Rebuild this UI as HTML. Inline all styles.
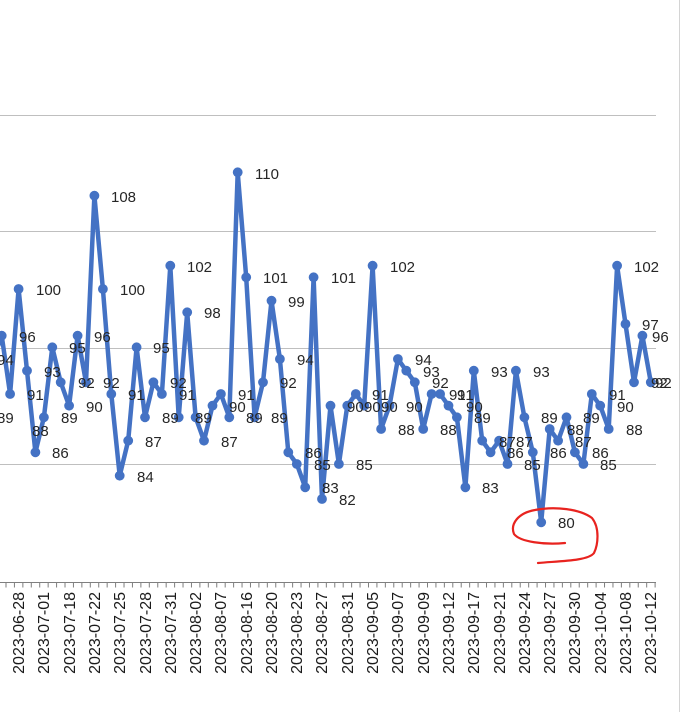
<!DOCTYPE html>
<html><head><meta charset="utf-8"><style>
html,body{margin:0;padding:0;background:#fff;}
svg{display:block;font-family:"Liberation Sans",sans-serif;}
</style></head><body>
<svg width="681" height="712" viewBox="0 0 681 712" xmlns="http://www.w3.org/2000/svg">
<defs>
<marker id="m" markerWidth="12" markerHeight="12" refX="6" refY="6" markerUnits="userSpaceOnUse"><circle cx="6" cy="6" r="4.9" fill="#4472C4"/></marker>
</defs>
<rect width="681" height="712" fill="#fff"/>
<g stroke="#bfbfbf" stroke-width="1">
<line x1="0" y1="115.5" x2="656" y2="115.5"/>
<line x1="0" y1="231.5" x2="656" y2="231.5"/>
<line x1="0" y1="348.5" x2="656" y2="348.5"/>
<line x1="0" y1="464.5" x2="656" y2="464.5"/>
</g>
<line x1="679.5" y1="0" x2="679.5" y2="712" stroke="#d4d4d4"/>
<line x1="0" y1="582.5" x2="656" y2="582.5" stroke="#7f7f7f"/>
<line x1="0" y1="585" x2="656" y2="585" stroke="#7f7f7f" stroke-width="5" stroke-dasharray="1 7.43" stroke-dashoffset="-5.5"/>
<polyline fill="none" stroke="#4472C4" stroke-width="4.5" stroke-linejoin="round" marker-start="url(#m)" marker-mid="url(#m)" marker-end="url(#m)" points="-15.2,417.3 -6.7,359 1.7,335.7 10.1,394 18.6,289 27,370.7 35.4,452.3 43.9,417.3 52.3,347.3 60.7,382.3 69.1,405.7 77.6,335.7 86,382.3 94.4,195.7 102.9,289 111.3,394 119.7,475.7 128.2,440.7 136.6,347.3 145,417.3 153.4,382.3 161.9,394 170.3,265.7 178.7,417.3 187.2,312.3 195.6,417.3 204,440.7 212.5,405.7 220.9,394 229.3,417.3 237.7,172.3 246.2,277.3 254.6,417.3 263,382.3 271.5,300.7 279.9,359 288.3,452.3 296.8,464 305.2,487.3 313.6,277.3 322,499 330.5,405.7 338.9,464 347.3,405.7 355.8,394 364.2,405.7 372.6,265.7 381.1,429 389.5,405.7 397.9,359 406.3,370.7 414.8,382.3 423.2,429 431.6,394 440.1,394 448.5,405.7 456.9,417.3 465.4,487.3 473.8,370.7 482.2,440.7 490.6,452.3 499.1,440.7 507.5,464 515.9,370.7 524.4,417.3 532.8,452.3 541.2,522.3 549.7,429 558.1,440.7 566.5,417.3 574.9,452.3 583.4,464 591.8,394 600.2,405.7 608.7,429 617.1,265.7 625.5,324 634,382.3 642.4,335.7 650.8,382.3"/>
<g font-size="15" fill="#262626">
<text x="-3" y="423">89</text><text x="-3" y="365">94</text><text x="19" y="342">96</text><text x="27" y="400">91</text>
<text x="36" y="295">100</text><text x="44" y="377">93</text><text x="52" y="458">86</text><text x="61" y="423">89</text>
<text x="69" y="353">95</text><text x="78" y="388">92</text><text x="86" y="412">90</text><text x="94" y="342">96</text>
<text x="103" y="388">92</text><text x="111" y="202">108</text><text x="120" y="295">100</text><text x="32" y="436">88</text>
<text x="137" y="482">84</text><text x="145" y="447">87</text><text x="153" y="353">95</text><text x="128" y="400">91</text>
<text x="170" y="388">92</text><text x="179" y="400">91</text><text x="187" y="272">102</text><text x="162" y="423">89</text>
<text x="204" y="318">98</text><text x="195" y="423">89</text><text x="221" y="447">87</text><text x="229" y="412">90</text>
<text x="238" y="400">91</text><text x="246" y="423">89</text><text x="255" y="179">110</text><text x="263" y="283">101</text>
<text x="271" y="423">89</text><text x="280" y="388">92</text><text x="288" y="307">99</text><text x="297" y="365">94</text>
<text x="305" y="458">86</text><text x="314" y="470">85</text><text x="322" y="493">83</text><text x="331" y="283">101</text>
<text x="339" y="505">82</text><text x="347" y="412">90</text><text x="356" y="470">85</text><text x="364" y="412">90</text>
<text x="372" y="400">91</text><text x="381" y="412">90</text><text x="390" y="272">102</text><text x="398" y="435">88</text>
<text x="406" y="412">90</text><text x="415" y="365">94</text><text x="423" y="377">93</text><text x="432" y="388">92</text>
<text x="440" y="435">88</text><text x="449" y="400">91</text><text x="457" y="400">91</text><text x="466" y="412">90</text>
<text x="474" y="423">89</text><text x="482" y="493">83</text><text x="491" y="377">93</text><text x="499" y="447">87</text>
<text x="507" y="458">86</text><text x="516" y="447">87</text><text x="524" y="470">85</text><text x="533" y="377">93</text>
<text x="541" y="423">89</text><text x="550" y="458">86</text><text x="558" y="528">80</text><text x="567" y="435">88</text>
<text x="575" y="447">87</text><text x="583" y="423">89</text><text x="592" y="458">86</text><text x="600" y="470">85</text>
<text x="609" y="400">91</text><text x="617" y="412">90</text><text x="626" y="435">88</text><text x="634" y="272">102</text>
<text x="642" y="330">97</text><text x="651" y="388">92</text><text x="652" y="342">96</text><text x="655" y="388">92</text>
</g>
<path d="M565,543 C545,545 520,542 514,534 C510,524 518,513 535,510 C555,506 580,509 592,518 C600,528 598,545 594,553 C588,561 560,561 538,563" fill="none" stroke="#e8231f" stroke-width="2.2" stroke-linecap="round"/>
<g font-size="16" fill="#1a1a1a" text-anchor="end">
<text transform="translate(24,592) rotate(-90)">2023-06-28</text>
<text transform="translate(49,592) rotate(-90)">2023-07-01</text>
<text transform="translate(75,592) rotate(-90)">2023-07-18</text>
<text transform="translate(100,592) rotate(-90)">2023-07-22</text>
<text transform="translate(125,592) rotate(-90)">2023-07-25</text>
<text transform="translate(151,592) rotate(-90)">2023-07-28</text>
<text transform="translate(176,592) rotate(-90)">2023-07-31</text>
<text transform="translate(201,592) rotate(-90)">2023-08-02</text>
<text transform="translate(226,592) rotate(-90)">2023-08-07</text>
<text transform="translate(252,592) rotate(-90)">2023-08-16</text>
<text transform="translate(277,592) rotate(-90)">2023-08-20</text>
<text transform="translate(302,592) rotate(-90)">2023-08-23</text>
<text transform="translate(327,592) rotate(-90)">2023-08-27</text>
<text transform="translate(353,592) rotate(-90)">2023-08-31</text>
<text transform="translate(378,592) rotate(-90)">2023-09-05</text>
<text transform="translate(403,592) rotate(-90)">2023-09-07</text>
<text transform="translate(429,592) rotate(-90)">2023-09-09</text>
<text transform="translate(454,592) rotate(-90)">2023-09-12</text>
<text transform="translate(479,592) rotate(-90)">2023-09-17</text>
<text transform="translate(505,592) rotate(-90)">2023-09-21</text>
<text transform="translate(530,592) rotate(-90)">2023-09-24</text>
<text transform="translate(555,592) rotate(-90)">2023-09-27</text>
<text transform="translate(580,592) rotate(-90)">2023-09-30</text>
<text transform="translate(606,592) rotate(-90)">2023-10-04</text>
<text transform="translate(631,592) rotate(-90)">2023-10-08</text>
<text transform="translate(656,592) rotate(-90)">2023-10-12</text>
</g>
</svg>
</body></html>
